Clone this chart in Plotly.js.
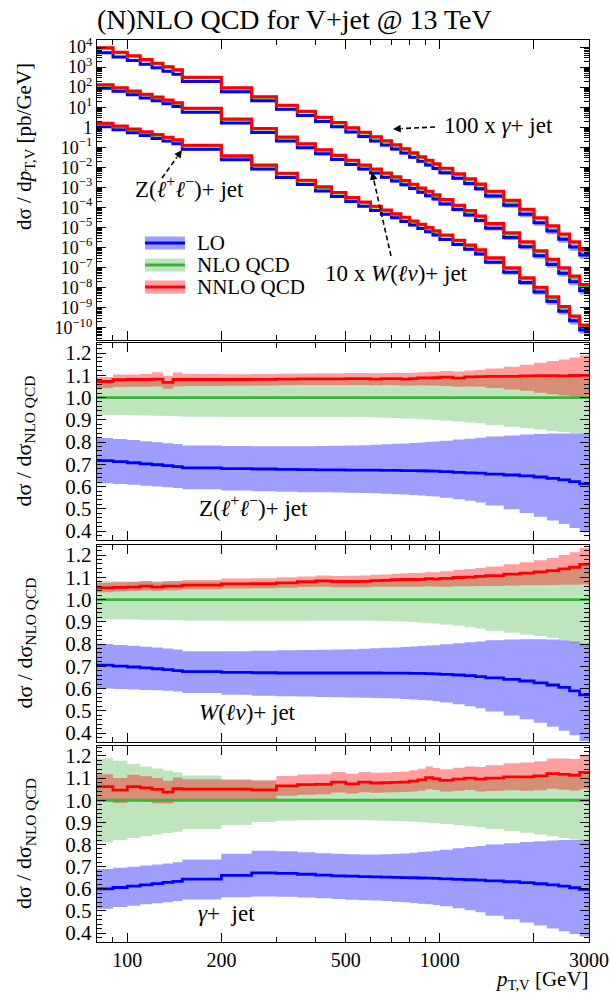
<!DOCTYPE html>
<html><head><meta charset="utf-8">
<script src="https://cdn.plot.ly/plotly-3.0.1.min.js"></script>
<style>html,body{margin:0;padding:0;background:#fff}#chart{width:610px;height:994px}</style>
</head><body><div id="chart"></div>
<script>
// ---------------- data ----------------
const binEdges = [80,90,100,110,120,130,140,150,200,250,300,350,400,450,500,550,600,650,700,750,800,850,900,950,1000,1100,1200,1300,1400,1600,1800,2000,2200,2400,2600,2800,3000];

// NLO QCD spectra, log10(dsigma/dpT [pb/GeV]) per bin (already with the 100x / 10x scale factors)
const gammaNLOlog10 = [3.94,3.72,3.54,3.35,3.17,3.0,2.84,2.47,1.95,1.5,1.07,0.77,0.47,0.21,-0.05,-0.28,-0.5,-0.7,-0.9,-1.1,-1.31,-1.51,-1.69,-1.86,-2.08,-2.35,-2.61,-2.87,-3.23,-3.68,-4.13,-4.55,-4.96,-5.36,-5.75,-6.14];
const wNLOlog10 = [2.1,1.95,1.78,1.62,1.48,1.34,1.2,0.92,0.39,-0.09,-0.51,-0.85,-1.15,-1.43,-1.68,-1.91,-2.11,-2.31,-2.5,-2.69,-2.88,-3.06,-3.23,-3.4,-3.64,-3.92,-4.19,-4.46,-4.84,-5.3,-5.75,-6.2,-6.63,-7.05,-7.47,-7.9];
const zNLOlog10 = [0.17,0.03,-0.12,-0.26,-0.4,-0.53,-0.66,-0.93,-1.45,-1.91,-2.33,-2.68,-3.0,-3.28,-3.53,-3.76,-3.97,-4.16,-4.34,-4.52,-4.7,-4.87,-5.03,-5.19,-5.41,-5.66,-5.9,-6.14,-6.54,-7.04,-7.54,-8.01,-8.49,-8.97,-9.44,-9.89];

// Ratios to NLO QCD : Z(ll)+jet
const zLO     = [0.717,0.712,0.707,0.702,0.698,0.694,0.69,0.684,0.681,0.679,0.677,0.676,0.675,0.675,0.674,0.674,0.674,0.673,0.673,0.672,0.672,0.671,0.670,0.669,0.667,0.664,0.662,0.660,0.656,0.652,0.648,0.643,0.637,0.630,0.622,0.612];
const zLOlo   = [0.615,0.612,0.608,0.604,0.600,0.597,0.594,0.588,0.582,0.579,0.577,0.575,0.574,0.573,0.572,0.571,0.570,0.568,0.566,0.564,0.562,0.560,0.557,0.555,0.550,0.543,0.536,0.528,0.515,0.498,0.481,0.465,0.448,0.432,0.414,0.395];
const zLOhi   = [0.818,0.814,0.809,0.804,0.799,0.795,0.791,0.785,0.782,0.781,0.781,0.781,0.782,0.783,0.784,0.786,0.788,0.790,0.792,0.794,0.796,0.798,0.800,0.802,0.806,0.811,0.815,0.819,0.825,0.830,0.834,0.836,0.838,0.839,0.839,0.838];
const zNLOlo  = [0.922,0.921,0.920,0.919,0.918,0.917,0.916,0.914,0.913,0.913,0.913,0.913,0.913,0.913,0.912,0.911,0.910,0.909,0.908,0.906,0.905,0.903,0.901,0.899,0.896,0.892,0.888,0.884,0.877,0.869,0.862,0.856,0.85,0.845,0.84,0.835];
const zNLOhi  = [1.068,1.075,1.077,1.077,1.078,1.068,1.077,1.077,1.077,1.078,1.079,1.08,1.08,1.08,1.08,1.08,1.078,1.08,1.08,1.078,1.08,1.083,1.083,1.084,1.087,1.084,1.088,1.089,1.09,1.09,1.092,1.093,1.093,1.092,1.094,1.095];
const zNNLO   = [1.072,1.08,1.081,1.081,1.083,1.068,1.081,1.081,1.081,1.082,1.083,1.084,1.084,1.084,1.085,1.085,1.083,1.085,1.085,1.083,1.085,1.088,1.088,1.089,1.092,1.087,1.093,1.094,1.095,1.095,1.097,1.098,1.098,1.097,1.099,1.10];
const zNNLOlo = [1.043,1.047,1.048,1.048,1.05,1.04,1.05,1.052,1.053,1.054,1.055,1.056,1.056,1.056,1.056,1.056,1.055,1.056,1.055,1.054,1.054,1.055,1.054,1.054,1.052,1.048,1.05,1.048,1.043,1.036,1.03,1.022,1.015,1.009,1.004,1.0];
const zNNLOhi = [1.092,1.104,1.104,1.106,1.114,1.098,1.113,1.106,1.105,1.106,1.107,1.108,1.109,1.109,1.11,1.11,1.109,1.11,1.111,1.11,1.111,1.114,1.115,1.116,1.119,1.117,1.122,1.124,1.13,1.138,1.147,1.156,1.164,1.171,1.18,1.19];

// Ratios to NLO QCD : W(lv)+jet
const wLO     = [0.705,0.701,0.697,0.693,0.689,0.685,0.681,0.676,0.673,0.671,0.670,0.670,0.670,0.670,0.670,0.670,0.670,0.669,0.669,0.669,0.668,0.668,0.667,0.666,0.664,0.661,0.658,0.654,0.648,0.641,0.634,0.626,0.616,0.605,0.59,0.572];
const wLOlo   = [0.600,0.598,0.596,0.594,0.592,0.590,0.587,0.580,0.572,0.568,0.566,0.564,0.562,0.561,0.560,0.559,0.558,0.557,0.555,0.553,0.551,0.549,0.546,0.543,0.538,0.530,0.521,0.512,0.497,0.479,0.462,0.446,0.428,0.410,0.39,0.365];
const wLOhi   = [0.800,0.796,0.792,0.788,0.784,0.780,0.776,0.768,0.768,0.770,0.772,0.773,0.774,0.776,0.777,0.779,0.781,0.783,0.785,0.787,0.789,0.791,0.793,0.795,0.799,0.804,0.808,0.812,0.817,0.821,0.822,0.822,0.82,0.817,0.812,0.803];
const wNLOlo  = [0.912,0.911,0.910,0.909,0.909,0.908,0.908,0.906,0.905,0.905,0.905,0.905,0.906,0.906,0.906,0.906,0.905,0.904,0.903,0.901,0.899,0.897,0.895,0.892,0.888,0.882,0.876,0.870,0.86,0.851,0.843,0.836,0.828,0.818,0.805,0.787];
const wNLOhi  = [1.082,1.082,1.082,1.082,1.082,1.082,1.082,1.08,1.075,1.074,1.075,1.078,1.082,1.079,1.079,1.08,1.083,1.084,1.087,1.088,1.088,1.089,1.092,1.09,1.093,1.097,1.099,1.102,1.105,1.112,1.117,1.122,1.128,1.136,1.143,1.155];
const wNNLO   = [1.052,1.055,1.056,1.06,1.056,1.06,1.06,1.065,1.07,1.071,1.075,1.08,1.084,1.081,1.081,1.082,1.085,1.086,1.089,1.09,1.09,1.091,1.094,1.092,1.095,1.099,1.101,1.104,1.107,1.114,1.119,1.124,1.13,1.138,1.145,1.158];
const wNNLOlo = [1.033,1.036,1.038,1.041,1.038,1.042,1.042,1.046,1.05,1.051,1.053,1.056,1.058,1.055,1.055,1.055,1.057,1.057,1.058,1.058,1.058,1.058,1.06,1.058,1.058,1.06,1.06,1.061,1.061,1.063,1.064,1.064,1.065,1.066,1.066,1.068];
const wNNLOhi = [1.075,1.078,1.079,1.083,1.078,1.082,1.083,1.088,1.094,1.096,1.1,1.104,1.108,1.106,1.107,1.108,1.111,1.113,1.116,1.118,1.119,1.12,1.124,1.123,1.127,1.133,1.137,1.142,1.148,1.158,1.167,1.176,1.187,1.2,1.212,1.232];

// Ratios to NLO QCD : gamma+jet
const gLO     = [0.600,0.606,0.612,0.618,0.624,0.629,0.634,0.644,0.661,0.672,0.670,0.666,0.662,0.659,0.657,0.655,0.654,0.653,0.652,0.651,0.650,0.649,0.648,0.647,0.645,0.643,0.641,0.639,0.636,0.632,0.628,0.623,0.618,0.612,0.605,0.598];
const gLOlo   = [0.510,0.518,0.524,0.530,0.535,0.540,0.545,0.552,0.562,0.566,0.564,0.561,0.557,0.554,0.551,0.549,0.547,0.545,0.542,0.539,0.536,0.533,0.530,0.527,0.521,0.512,0.503,0.494,0.479,0.463,0.448,0.434,0.421,0.408,0.396,0.385];
const gLOhi   = [0.690,0.695,0.700,0.705,0.710,0.715,0.720,0.732,0.758,0.772,0.770,0.765,0.761,0.758,0.756,0.755,0.755,0.756,0.758,0.760,0.763,0.766,0.769,0.772,0.777,0.783,0.789,0.794,0.800,0.806,0.811,0.815,0.818,0.82,0.821,0.822];
const gNLOlo  = [0.810,0.820,0.830,0.838,0.845,0.852,0.858,0.870,0.888,0.902,0.908,0.91,0.911,0.911,0.911,0.91,0.909,0.908,0.906,0.905,0.903,0.901,0.899,0.897,0.893,0.888,0.883,0.878,0.87,0.861,0.853,0.845,0.837,0.83,0.823,0.816];
const gNLOhi  = [1.19,1.178,1.165,1.153,1.143,1.134,1.126,1.112,1.096,1.088,1.06,1.066,1.067,1.072,1.07,1.074,1.073,1.074,1.076,1.077,1.08,1.084,1.088,1.088,1.084,1.088,1.092,1.09,1.093,1.098,1.1,1.104,1.11,1.11,1.108,1.118];
const gNNLO   = [1.062,1.046,1.062,1.056,1.049,1.037,1.052,1.05,1.05,1.047,1.065,1.071,1.072,1.082,1.074,1.082,1.078,1.079,1.081,1.082,1.086,1.092,1.102,1.097,1.09,1.095,1.1,1.095,1.1,1.106,1.106,1.11,1.12,1.117,1.113,1.126];
const gNNLOlo = [0.995,0.988,0.996,0.992,0.987,0.985,0.994,1.0,1.0,1.0,1.02,1.025,1.027,1.035,1.03,1.036,1.034,1.035,1.036,1.037,1.04,1.043,1.05,1.046,1.04,1.043,1.046,1.04,1.042,1.045,1.043,1.045,1.052,1.048,1.043,1.05];
const gNNLOhi = [1.118,1.1,1.115,1.108,1.1,1.088,1.103,1.095,1.092,1.09,1.11,1.116,1.118,1.128,1.12,1.128,1.124,1.125,1.128,1.13,1.135,1.142,1.152,1.146,1.14,1.147,1.153,1.15,1.158,1.167,1.17,1.176,1.188,1.188,1.186,1.2];

// tick labels
const xTickVals = [100,200,500,1000,2000,3000];
const xTickText = ['100','200','500','1000','','3000'];
const xMinorVals = [90,300,400,600,700,800,900];
const yTopTickVals = [1e-10,1e-9,1e-8,1e-7,1e-6,1e-5,1e-4,1e-3,1e-2,1e-1,1,10,100,1000,10000];
const yTopTickText = ['10<sup>−10</sup>','10<sup>−9</sup>','10<sup>−8</sup>','10<sup>−7</sup>','10<sup>−6</sup>','10<sup>−5</sup>','10<sup>−4</sup>','10<sup>−3</sup>','10<sup>−2</sup>','10<sup>−1</sup>','1','10<sup>1</sup>','10<sup>2</sup>','10<sup>3</sup>','10<sup>4</sup>'];
const ratioTickVals = [0.4,0.5,0.6,0.7,0.8,0.9,1.0,1.1,1.2];
const ratioTickText = ['0.4','0.5','0.6','0.7','0.8','0.9','1.0','1.1','1.2'];

// ---------------- drawing ----------------
const FONT = 'Liberation Serif, DejaVu Serif, serif';
const C = {
  lo:   {line:'#0000ff', band:'rgba(0,0,255,0.38)'},
  nlo:  {line:'#3cb43c', band:'rgba(30,165,30,0.29)'},
  nnlo: {line:'#ff0000', band:'rgba(255,0,0,0.38)'}
};
const step = a => a.concat([a[a.length-1]]);
const traces = [];

// band drawn bin by bin (one polygon per bin, like the original histogram bands)
function band(xa, ya, lo, hi, color){
  const xs=[], ys=[];
  lo.forEach((v,i)=>{
    const a=binEdges[i], b=binEdges[i+1];
    xs.push(a,b,b,a,a,null); ys.push(v,v,hi[i],hi[i],v,null);
  });
  traces.push({x:xs, y:ys, xaxis:xa, yaxis:ya, mode:'lines', line:{width:0}, fill:'toself', fillcolor:color, hoverinfo:'skip', showlegend:false});
}
function line(xa, ya, v, color, w){
  traces.push({x:binEdges, y:step(v), xaxis:xa, yaxis:ya, mode:'lines', line:{width:w, color:color, shape:'hv'}, showlegend:false});
}
const mul = (a,b) => a.map((v,i)=>v*b[i]);
const ones = binEdges.slice(0,-1).map(()=>1);

// top panel
const procs = [
  {nlo:gammaNLOlog10.map(v=>Math.pow(10,v)), r:[gLO,gLOlo,gLOhi,gNLOlo,gNLOhi,gNNLO,gNNLOlo,gNNLOhi]},
  {nlo:wNLOlog10.map(v=>Math.pow(10,v)), r:[wLO,wLOlo,wLOhi,wNLOlo,wNLOhi,wNNLO,wNNLOlo,wNNLOhi]},
  {nlo:zNLOlog10.map(v=>Math.pow(10,v)), r:[zLO,zLOlo,zLOhi,zNLOlo,zNLOhi,zNNLO,zNNLOlo,zNNLOhi]}
];
procs.forEach(p=>{
  const [lo,lolo,lohi,nlolo,nlohi,nnlo,nnlolo,nnlohi] = p.r;
  band('x','y', mul(p.nlo,lolo), mul(p.nlo,lohi), C.lo.band);
  band('x','y', mul(p.nlo,nlolo), mul(p.nlo,nlohi), C.nlo.band);
  band('x','y', mul(p.nlo,nnlolo), mul(p.nlo,nnlohi), C.nnlo.band);
});
procs.forEach(p=>{
  const [lo,lolo,lohi,nlolo,nlohi,nnlo] = p.r;
  line('x','y', mul(p.nlo,lo), C.lo.line, 3);
  line('x','y', p.nlo, C.nlo.line, 3);
  line('x','y', mul(p.nlo,nnlo), C.nnlo.line, 3);
});

// ratio panels
[['x2','y2',procs[2].r],['x3','y3',procs[1].r],['x4','y4',procs[0].r]].forEach(([xa,ya,r])=>{
  const [lo,lolo,lohi,nlolo,nlohi,nnlo,nnlolo,nnlohi] = r;
  band(xa,ya,lolo,lohi,C.lo.band);
  band(xa,ya,nlolo,nlohi,C.nlo.band);
  band(xa,ya,nnlolo,nnlohi,C.nnlo.band);
  line(xa,ya,lo,C.lo.line,2.8);
  line(xa,ya,ones,C.nlo.line,2.8);
  line(xa,ya,nnlo,C.nnlo.line,2.8);
});

// ---------------- layout ----------------
const W0=610, H0=994, ML=97, MR=21, MT=40, MB=52;
const PW=W0-ML-MR, PH=H0-MT-MB;
const px = x => (x-ML)/PW;           // pixel -> paper
const py = y => (H0-MB-y)/PH;

const axBase = {showline:true, linecolor:'#000', linewidth:1.2, mirror:'allticks', ticks:'inside', ticklen:9, tickwidth:1, tickcolor:'#000', showgrid:false, zeroline:false, tickfont:{family:FONT, size:21, color:'#000'}};
const xBase = Object.assign({}, axBase, {type:'log', range:[Math.log10(80), Math.log10(3000)], tickmode:'array', tickvals:xTickVals, ticktext:xTickText,
  minor:{ticks:'inside', ticklen:5, tickwidth:1, tickcolor:'#000', tickmode:'array', tickvals:xMinorVals}});
const ratioBase = Object.assign({}, axBase, {range:[0.36,1.245], tickmode:'array', tickvals:ratioTickVals, ticktext:ratioTickText,
  minor:{ticks:'inside', ticklen:5, tickwidth:1, tickcolor:'#000', dtick:0.02, tick0:0}});

const minorLog = [];
for (let e=-11; e<=4; e++) for (let k=2; k<=9; k++) minorLog.push(k*Math.pow(10,e));

const dom = [[py(340),1],[py(540),py(343)],[py(742),py(545)],[0,py(746)]];

const layout = {
  width:W0, height:H0, margin:{l:ML, r:MR, t:MT, b:MB},
  paper_bgcolor:'#fff', plot_bgcolor:'#fff', showlegend:false,
  font:{family:FONT, color:'#000'},
  title:{text:'(N)NLO QCD for V+jet @ 13 TeV', font:{family:FONT, size:28, color:'#000'}, x:ML/W0, xanchor:'left', xref:'container', y:1-19/H0, yanchor:'middle'},
  xaxis:Object.assign({}, xBase, {anchor:'y', showticklabels:false}),
  xaxis2:Object.assign({}, xBase, {anchor:'y2', showticklabels:false, matches:'x'}),
  xaxis3:Object.assign({}, xBase, {anchor:'y3', showticklabels:false, matches:'x'}),
  xaxis4:Object.assign({}, xBase, {anchor:'y4', showticklabels:true, matches:'x', ticklabelstandoff:0, tickfont:{family:FONT, size:20, color:'#000'}}),
  yaxis:Object.assign({}, axBase, {domain:dom[0], anchor:'x', type:'log', range:[-10.6,4.35], tickmode:'array', tickvals:yTopTickVals, ticktext:yTopTickText,
     tickfont:{family:FONT, size:18, color:'#000'},
     minor:{ticks:'inside', ticklen:5, tickwidth:1, tickcolor:'#000', tickmode:'array', tickvals:minorLog}}),
  yaxis2:Object.assign({}, ratioBase, {domain:dom[1], anchor:'x2'}),
  yaxis3:Object.assign({}, ratioBase, {domain:dom[2], anchor:'x3'}),
  yaxis4:Object.assign({}, ratioBase, {domain:dom[3], anchor:'x4'}),
  annotations:[], shapes:[]
};

const A = layout.annotations, S = layout.shapes;
const F = s => ({family:FONT, size:s, color:'#000'});
const txt = (x,y,text,opts={}) => A.push(Object.assign({xref:'paper', yref:'paper', x:px(x), y:py(y), text:text, showarrow:false, xanchor:'left', yanchor:'middle', font:F(23)}, opts));

// y-axis titles
txt(25,147,'dσ / d<i>p</i><sub>T,V</sub> [pb/GeV]',{textangle:-90, xanchor:'center', font:F(21)});
txt(25,(343+540)/2,'dσ / dσ<sub>NLO QCD</sub>',{textangle:-90, xanchor:'center', font:F(22)});
txt(25,(545+742)/2,'dσ / dσ<sub>NLO QCD</sub>',{textangle:-90, xanchor:'center', font:F(22)});
txt(25,(746+942)/2,'dσ / dσ<sub>NLO QCD</sub>',{textangle:-90, xanchor:'center', font:F(22)});
// x-axis title
A.push({xref:'paper', yref:'paper', x:px(591), y:py(995), xanchor:'right', yanchor:'bottom', showarrow:false,
        text:'<i>p</i><sub>T,V</sub> [GeV]', font:F(21)});

// panel labels
txt(197,506,'Z(<i>ℓ</i><sup>+</sup><i>ℓ</i><sup>−</sup>)+ jet');
txt(197,712,'<i>W</i>(<i>ℓν</i>)+ jet');
txt(196,913,'<i>γ</i>+  jet');

// top panel labels + dashed arrows
txt(442,125,'100 x <i>γ</i>+ jet');
txt(133,187,'Z(<i>ℓ</i><sup>+</sup><i>ℓ</i><sup>−</sup>)+ jet');
txt(323,273,'10 x <i>W</i>(<i>ℓν</i>)+ jet');
function arrow(x0,y0,x1,y1){ // from tail (x0,y0) to head (x1,y1), dashed shaft
  const L = Math.hypot(x1-x0,y1-y0), ux=(x1-x0)/L, uy=(y1-y0)/L;
  S.push({type:'line', xref:'paper', yref:'paper', x0:px(x0), y0:py(y0), x1:px(x1-ux*9), y1:py(y1-uy*9), line:{color:'#000', width:1.6, dash:'5px,3px'}});
  A.push({xref:'paper', yref:'paper', x:px(x1), y:py(y1), ax:-ux*10, ay:-uy*10, text:'', showarrow:true, arrowhead:2, arrowsize:1.1, arrowwidth:1.4, arrowcolor:'#000'});
}
arrow(435,127,393,129);
arrow(162,178,182,150);
arrow(391,256,372,172);

// legend (custom swatches)
[['LO',243,C.lo],['NLO QCD',265,C.nlo],['NNLO QCD',287,C.nnlo]].forEach(([t,y,c])=>{
  S.push({type:'rect', xref:'paper', yref:'paper', x0:px(145), x1:px(185), y0:py(y-6.5), y1:py(y+6.5), fillcolor:c.band, line:{width:0}});
  S.push({type:'line', xref:'paper', yref:'paper', x0:px(145), x1:px(185), y0:py(y), y1:py(y), line:{color:c.line, width:2.8}});
  txt(195,y,t,{font:F(21)});
});

Plotly.newPlot('chart', traces, layout, {staticPlot:true, displayModeBar:false});
</script>
</body></html>
